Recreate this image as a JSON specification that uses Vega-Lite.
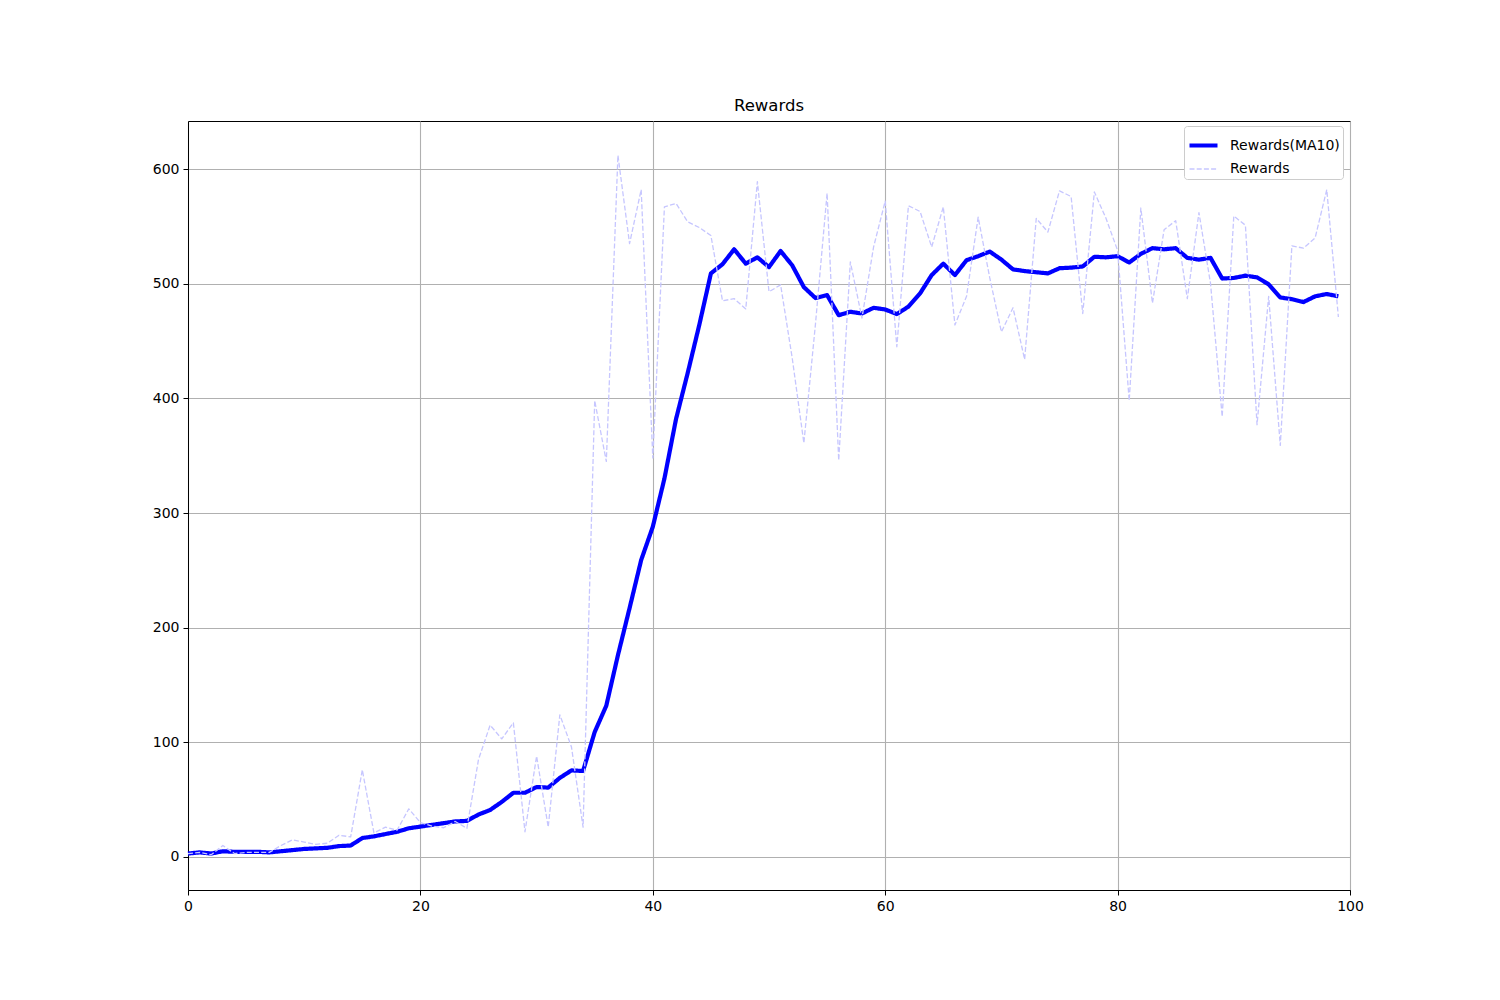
{
  "$schema": "https://vega.github.io/schema/vega-lite/v6.json",
  "width": 1162,
  "height": 769,
  "autosize": "none",
  "padding": {"left": 188, "top": 121, "right": 150, "bottom": 110},
  "background": "white",
  "config": {
    "font": "DejaVu Sans",
    "view": {"stroke": "black", "strokeWidth": 1},
    "axis": {
      "labelFont": "DejaVu Sans", "labelFontSize": 14, "labelColor": "black",
      "tickColor": "black", "tickSize": 5, "tickWidth": 1, "labelPadding": 4, "labelFlush": false,
      "domainColor": "black", "domainWidth": 1,
      "gridColor": "#b0b0b0", "gridWidth": 1.1, "gridOpacity": 1
    }
  },
  "title": {"text": "Rewards", "fontSize": 16.5, "fontWeight": "normal", "font": "DejaVu Sans", "color": "black", "offset": 7, "anchor": "middle"},
  "data": {
    "values": [
      {"ep":0,"series":"Rewards(MA10)","v":3},{"ep":1,"series":"Rewards(MA10)","v":4},{"ep":2,"series":"Rewards(MA10)","v":3},{"ep":3,"series":"Rewards(MA10)","v":5},{"ep":4,"series":"Rewards(MA10)","v":4.5},
      {"ep":5,"series":"Rewards(MA10)","v":4.5},{"ep":6,"series":"Rewards(MA10)","v":4.5},{"ep":7,"series":"Rewards(MA10)","v":4},{"ep":8,"series":"Rewards(MA10)","v":5},{"ep":9,"series":"Rewards(MA10)","v":6},
      {"ep":10,"series":"Rewards(MA10)","v":7},{"ep":11,"series":"Rewards(MA10)","v":7.5},{"ep":12,"series":"Rewards(MA10)","v":8},{"ep":13,"series":"Rewards(MA10)","v":9.5},{"ep":14,"series":"Rewards(MA10)","v":10},
      {"ep":15,"series":"Rewards(MA10)","v":16.5},{"ep":16,"series":"Rewards(MA10)","v":18},{"ep":17,"series":"Rewards(MA10)","v":20},{"ep":18,"series":"Rewards(MA10)","v":22},{"ep":19,"series":"Rewards(MA10)","v":25},
      {"ep":20,"series":"Rewards(MA10)","v":26.5},{"ep":21,"series":"Rewards(MA10)","v":28},{"ep":22,"series":"Rewards(MA10)","v":29.5},{"ep":23,"series":"Rewards(MA10)","v":31},{"ep":24,"series":"Rewards(MA10)","v":31.5},
      {"ep":25,"series":"Rewards(MA10)","v":37},{"ep":26,"series":"Rewards(MA10)","v":41},{"ep":27,"series":"Rewards(MA10)","v":48},{"ep":28,"series":"Rewards(MA10)","v":56},{"ep":29,"series":"Rewards(MA10)","v":56},
      {"ep":30,"series":"Rewards(MA10)","v":61},{"ep":31,"series":"Rewards(MA10)","v":60.5},{"ep":32,"series":"Rewards(MA10)","v":69},{"ep":33,"series":"Rewards(MA10)","v":75.5},{"ep":34,"series":"Rewards(MA10)","v":75},
      {"ep":35,"series":"Rewards(MA10)","v":109},{"ep":36,"series":"Rewards(MA10)","v":132},{"ep":37,"series":"Rewards(MA10)","v":176},{"ep":38,"series":"Rewards(MA10)","v":217},{"ep":39,"series":"Rewards(MA10)","v":259},
      {"ep":40,"series":"Rewards(MA10)","v":288},{"ep":41,"series":"Rewards(MA10)","v":330},{"ep":42,"series":"Rewards(MA10)","v":382},{"ep":43,"series":"Rewards(MA10)","v":422},{"ep":44,"series":"Rewards(MA10)","v":464},
      {"ep":45,"series":"Rewards(MA10)","v":509},{"ep":46,"series":"Rewards(MA10)","v":517},{"ep":47,"series":"Rewards(MA10)","v":530},{"ep":48,"series":"Rewards(MA10)","v":517.5},{"ep":49,"series":"Rewards(MA10)","v":523},
      {"ep":50,"series":"Rewards(MA10)","v":514.5},{"ep":51,"series":"Rewards(MA10)","v":528.5},{"ep":52,"series":"Rewards(MA10)","v":516},{"ep":53,"series":"Rewards(MA10)","v":497},{"ep":54,"series":"Rewards(MA10)","v":487.5},
      {"ep":55,"series":"Rewards(MA10)","v":490},{"ep":56,"series":"Rewards(MA10)","v":472.5},{"ep":57,"series":"Rewards(MA10)","v":475.5},{"ep":58,"series":"Rewards(MA10)","v":474},{"ep":59,"series":"Rewards(MA10)","v":479},
      {"ep":60,"series":"Rewards(MA10)","v":477.5},{"ep":61,"series":"Rewards(MA10)","v":473.5},{"ep":62,"series":"Rewards(MA10)","v":480},{"ep":63,"series":"Rewards(MA10)","v":491.5},{"ep":64,"series":"Rewards(MA10)","v":507.5},
      {"ep":65,"series":"Rewards(MA10)","v":517.5},{"ep":66,"series":"Rewards(MA10)","v":507.5},{"ep":67,"series":"Rewards(MA10)","v":520.5},{"ep":68,"series":"Rewards(MA10)","v":524},{"ep":69,"series":"Rewards(MA10)","v":528},
      {"ep":70,"series":"Rewards(MA10)","v":521},{"ep":71,"series":"Rewards(MA10)","v":512.5},{"ep":72,"series":"Rewards(MA10)","v":511},{"ep":73,"series":"Rewards(MA10)","v":510},{"ep":74,"series":"Rewards(MA10)","v":509},
      {"ep":75,"series":"Rewards(MA10)","v":513.5},{"ep":76,"series":"Rewards(MA10)","v":514},{"ep":77,"series":"Rewards(MA10)","v":515},{"ep":78,"series":"Rewards(MA10)","v":523.5},{"ep":79,"series":"Rewards(MA10)","v":523},
      {"ep":80,"series":"Rewards(MA10)","v":524},{"ep":81,"series":"Rewards(MA10)","v":518.5},{"ep":82,"series":"Rewards(MA10)","v":526},{"ep":83,"series":"Rewards(MA10)","v":531},{"ep":84,"series":"Rewards(MA10)","v":530},
      {"ep":85,"series":"Rewards(MA10)","v":531},{"ep":86,"series":"Rewards(MA10)","v":522.5},{"ep":87,"series":"Rewards(MA10)","v":521},{"ep":88,"series":"Rewards(MA10)","v":522.5},{"ep":89,"series":"Rewards(MA10)","v":504.5},
      {"ep":90,"series":"Rewards(MA10)","v":505},{"ep":91,"series":"Rewards(MA10)","v":507},{"ep":92,"series":"Rewards(MA10)","v":505.5},{"ep":93,"series":"Rewards(MA10)","v":499.5},{"ep":94,"series":"Rewards(MA10)","v":488},
      {"ep":95,"series":"Rewards(MA10)","v":486.5},{"ep":96,"series":"Rewards(MA10)","v":484},{"ep":97,"series":"Rewards(MA10)","v":489},{"ep":98,"series":"Rewards(MA10)","v":491},{"ep":99,"series":"Rewards(MA10)","v":489},
      {"ep":0,"series":"Rewards","v":3},{"ep":1,"series":"Rewards","v":4},{"ep":2,"series":"Rewards","v":2},{"ep":3,"series":"Rewards","v":10},{"ep":4,"series":"Rewards","v":3},
      {"ep":5,"series":"Rewards","v":4},{"ep":6,"series":"Rewards","v":4},{"ep":7,"series":"Rewards","v":4},{"ep":8,"series":"Rewards","v":10},{"ep":9,"series":"Rewards","v":15},
      {"ep":10,"series":"Rewards","v":13},{"ep":11,"series":"Rewards","v":11},{"ep":12,"series":"Rewards","v":12},{"ep":13,"series":"Rewards","v":19},{"ep":14,"series":"Rewards","v":17.5},
      {"ep":15,"series":"Rewards","v":76},{"ep":16,"series":"Rewards","v":21},{"ep":17,"series":"Rewards","v":26},{"ep":18,"series":"Rewards","v":23.5},{"ep":19,"series":"Rewards","v":42},
      {"ep":20,"series":"Rewards","v":30},{"ep":21,"series":"Rewards","v":27},{"ep":22,"series":"Rewards","v":25.5},{"ep":23,"series":"Rewards","v":31},{"ep":24,"series":"Rewards","v":25},
      {"ep":25,"series":"Rewards","v":85},{"ep":26,"series":"Rewards","v":115},{"ep":27,"series":"Rewards","v":103},{"ep":28,"series":"Rewards","v":117},{"ep":29,"series":"Rewards","v":22},
      {"ep":30,"series":"Rewards","v":88},{"ep":31,"series":"Rewards","v":26},{"ep":32,"series":"Rewards","v":124},{"ep":33,"series":"Rewards","v":96},{"ep":34,"series":"Rewards","v":26},
      {"ep":35,"series":"Rewards","v":398},{"ep":36,"series":"Rewards","v":345},{"ep":37,"series":"Rewards","v":612},{"ep":38,"series":"Rewards","v":535},{"ep":39,"series":"Rewards","v":582},
      {"ep":40,"series":"Rewards","v":348},{"ep":41,"series":"Rewards","v":567},{"ep":42,"series":"Rewards","v":570},{"ep":43,"series":"Rewards","v":554},{"ep":44,"series":"Rewards","v":549},
      {"ep":45,"series":"Rewards","v":542},{"ep":46,"series":"Rewards","v":485},{"ep":47,"series":"Rewards","v":487},{"ep":48,"series":"Rewards","v":478},{"ep":49,"series":"Rewards","v":589},
      {"ep":50,"series":"Rewards","v":493},{"ep":51,"series":"Rewards","v":499},{"ep":52,"series":"Rewards","v":435},{"ep":53,"series":"Rewards","v":361},{"ep":54,"series":"Rewards","v":465},
      {"ep":55,"series":"Rewards","v":579},{"ep":56,"series":"Rewards","v":346},{"ep":57,"series":"Rewards","v":519},{"ep":58,"series":"Rewards","v":470},{"ep":59,"series":"Rewards","v":532},
      {"ep":60,"series":"Rewards","v":572},{"ep":61,"series":"Rewards","v":445},{"ep":62,"series":"Rewards","v":568},{"ep":63,"series":"Rewards","v":563},{"ep":64,"series":"Rewards","v":532},
      {"ep":65,"series":"Rewards","v":567},{"ep":66,"series":"Rewards","v":464},{"ep":67,"series":"Rewards","v":489},{"ep":68,"series":"Rewards","v":558},{"ep":69,"series":"Rewards","v":505},
      {"ep":70,"series":"Rewards","v":458},{"ep":71,"series":"Rewards","v":479},{"ep":72,"series":"Rewards","v":434},{"ep":73,"series":"Rewards","v":557},{"ep":74,"series":"Rewards","v":545},
      {"ep":75,"series":"Rewards","v":581},{"ep":76,"series":"Rewards","v":576},{"ep":77,"series":"Rewards","v":474},{"ep":78,"series":"Rewards","v":580},{"ep":79,"series":"Rewards","v":557},
      {"ep":80,"series":"Rewards","v":529},{"ep":81,"series":"Rewards","v":398},{"ep":82,"series":"Rewards","v":566},{"ep":83,"series":"Rewards","v":483},{"ep":84,"series":"Rewards","v":547},
      {"ep":85,"series":"Rewards","v":555},{"ep":86,"series":"Rewards","v":487},{"ep":87,"series":"Rewards","v":562},{"ep":88,"series":"Rewards","v":500},{"ep":89,"series":"Rewards","v":384},
      {"ep":90,"series":"Rewards","v":559},{"ep":91,"series":"Rewards","v":551},{"ep":92,"series":"Rewards","v":377},{"ep":93,"series":"Rewards","v":489},{"ep":94,"series":"Rewards","v":359},
      {"ep":95,"series":"Rewards","v":533},{"ep":96,"series":"Rewards","v":531},{"ep":97,"series":"Rewards","v":540},{"ep":98,"series":"Rewards","v":582},{"ep":99,"series":"Rewards","v":471}
    ]
  },
  "mark": {"type": "line", "strokeJoin": "round", "strokeCap": "butt"},
  "encoding": {
    "x": {"field": "ep", "type": "quantitative",
      "scale": {"domain": [0, 100], "nice": false, "zero": false},
      "axis": {"title": null, "values": [0, 20, 40, 60, 80, 100], "grid": true}},
    "y": {"field": "v", "type": "quantitative",
      "scale": {"domain": [-28.8, 641.9], "nice": false, "zero": false},
      "axis": {"title": null, "values": [0, 100, 200, 300, 400, 500, 600], "grid": true}},
    "color": {"field": "series", "type": "nominal",
      "scale": {"domain": ["Rewards(MA10)", "Rewards"], "range": ["#0000ff", "#c6c6ff"]},
      "legend": {
        "title": null, "orient": "none", "legendX": 996, "legendY": 5,
        "symbolType": "stroke", "symbolSize": 784,
        "labelFont": "DejaVu Sans", "labelFontSize": 14, "labelColor": "black",
        "labelOffset": 10, "rowPadding": -11, "padding": 3,
        "fillColor": "white", "strokeColor": "#cccccc", "cornerRadius": 3
      }},
    "strokeDash": {"field": "series", "type": "nominal",
      "scale": {"domain": ["Rewards(MA10)", "Rewards"], "range": [[1, 0], [5, 2.2]]}},
    "strokeWidth": {"field": "series", "type": "nominal",
      "scale": {"type": "ordinal", "domain": ["Rewards(MA10)", "Rewards"], "range": [4.2, 1.3]}}
  }
}
